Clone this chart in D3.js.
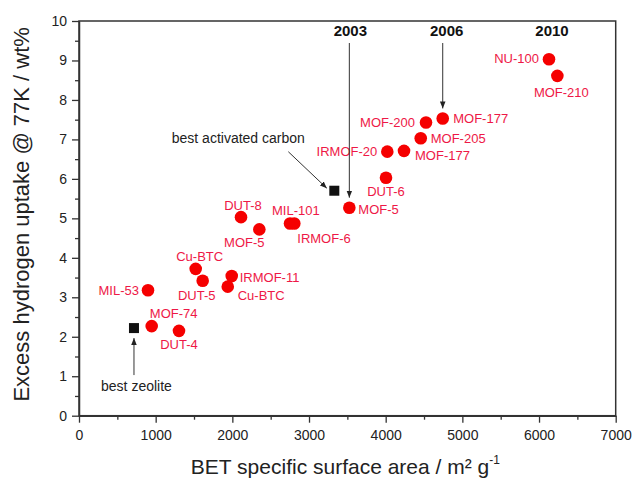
<!DOCTYPE html>
<html>
<head>
<meta charset="utf-8">
<script src="https://cdn.jsdelivr.net/npm/d3@7"></script>
<style>
  html, body { margin: 0; padding: 0; background: #fff; }
  svg { display: block; font-family: "Liberation Sans", Arial, Helvetica, sans-serif; }
</style>
</head>
<body>
<svg id="chart" width="634" height="480"></svg>
<script>
// ---- data ----
const names = ["MIL-53","MOF-74","DUT-4","Cu-BTC","DUT-5","IRMOF-11","Cu-BTC","DUT-8","MOF-5","MIL-101",
               "IRMOF-6","MOF-5","DUT-6","IRMOF-20","MOF-177","MOF-205","MOF-200","MOF-177","NU-100","MOF-210"];
const surfaceArea = [900, 948, 1304, 1522, 1613, 1992, 1940, 2113, 2352, 2752,
                     2808, 3526, 4004, 4021, 4239, 4457, 4526, 4744, 6130, 6239];
const h2Uptake = [3.18, 2.27, 2.15, 3.72, 3.42, 3.54, 3.27, 5.03, 4.72, 4.87,
                  4.87, 5.27, 6.03, 6.69, 6.71, 7.03, 7.43, 7.53, 9.03, 8.61];
const refNames = ["best zeolite", "best activated carbon"];
const refArea = [717, 3330];
const refUptake = [2.22, 5.70];
const years = ["2003", "2006", "2010"];
const yearTargets = [11, 17, 18]; // index of material each year label refers to
const xTicks = [0, 1000, 2000, 3000, 4000, 5000, 6000, 7000];
const yTicks = [0, 1, 2, 3, 4, 5, 6, 7, 8, 9, 10];

// ---- label layout (offsets in px from each point) ----
const labelLayout = [
  [-9, 0, "end"], [22, -13, "middle"], [0, 13.5, "middle"], [4, -12, "middle"], [-6, 15, "middle"],
  [8, 1.5, "start"], [10, 9, "start"], [2, -12, "middle"], [-15, 13.5, "middle"], [-18, -12.5, "start"],
  [3, 15, "start"], [9, 1.5, "start"], [0, 14, "middle"], [-10, 0, "end"], [11, 4.5, "start"],
  [10, 0, "start"], [-11, 0, "end"], [10.5, 0, "start"], [-10, -1, "end"], [4, 16.5, "middle"]
];

const svg = d3.select("#chart");
const L = 79, R = 615.7, T = 21, B = 415.7;
const x = d3.scaleLinear().domain([0, 7000]).range([L, R]);
const y = d3.scaleLinear().domain([0, 10]).range([B, T]);
const axisColor = "#333";

// frame
svg.append("rect").attr("x", L).attr("y", T).attr("width", R - L).attr("height", B - T)
  .attr("fill", "none").attr("stroke", axisColor).attr("stroke-width", 1.5);

// minor ticks
const xMinor = d3.range(500, 7000, 1000);
const yMinor = d3.range(0.5, 10, 1);
svg.append("g").attr("transform", `translate(0,${B})`)
  .call(d3.axisBottom(x).tickValues(xMinor).tickSize(4).tickFormat(""))
  .call(g => g.select(".domain").remove())
  .call(g => g.selectAll("line").attr("stroke", axisColor).attr("stroke-width", 1.3));
svg.append("g").attr("transform", `translate(${L},0)`)
  .call(d3.axisLeft(y).tickValues(yMinor).tickSize(4).tickFormat(""))
  .call(g => g.select(".domain").remove())
  .call(g => g.selectAll("line").attr("stroke", axisColor).attr("stroke-width", 1.3));

// major axes
const xAxis = svg.append("g").attr("transform", `translate(0,${B})`)
  .call(d3.axisBottom(x).tickValues(xTicks).tickSize(7).tickPadding(7).tickSizeOuter(0).tickFormat(d3.format("d")));
const yAxis = svg.append("g").attr("transform", `translate(${L},0)`)
  .call(d3.axisLeft(y).tickValues(yTicks).tickSize(7).tickPadding(5).tickSizeOuter(0));
[xAxis, yAxis].forEach(g => {
  g.select(".domain").attr("stroke", axisColor).attr("stroke-width", 1.5);
  g.selectAll(".tick line").attr("stroke", axisColor).attr("stroke-width", 1.3);
  g.selectAll(".tick text").attr("font-size", 14).attr("fill", "#222")
    .attr("font-family", "'Liberation Sans', Arial, sans-serif");
});

// axis titles
svg.append("text").attr("x", (L + R) / 2 - 2).attr("y", 474)
  .attr("text-anchor", "middle").attr("font-size", 21).attr("fill", "#222")
  .html('BET specific surface area / m² g<tspan font-size="12" dy="-10">-1</tspan>');
svg.append("text").attr("transform", `translate(29,${(T + B) / 2 - 4}) rotate(-90)`)
  .attr("text-anchor", "middle").attr("font-size", 22).attr("fill", "#222")
  .text("Excess hydrogen uptake @ 77K / wt%");

// arrow marker
svg.append("defs").append("marker").attr("id", "arr")
  .attr("viewBox", "0 0 10 10").attr("refX", 10).attr("refY", 5)
  .attr("markerWidth", 7).attr("markerHeight", 7).attr("markerUnits", "userSpaceOnUse")
  .attr("orient", "auto")
  .append("path").attr("d", "M0,1 L10,5 L0,9 Z").attr("fill", "#222");

// data points
const pts = names.map((n, i) => ({ name: n, xv: surfaceArea[i], yv: h2Uptake[i], lay: labelLayout[i] }));
svg.append("g").selectAll("circle").data(pts).join("circle")
  .attr("cx", d => x(d.xv)).attr("cy", d => y(d.yv)).attr("r", 6.3)
  .attr("fill", "#f50000");
svg.append("g").selectAll("text").data(pts).join("text")
  .attr("x", d => x(d.xv) + d.lay[0]).attr("y", d => y(d.yv) + d.lay[1])
  .attr("text-anchor", d => d.lay[2]).attr("dominant-baseline", "central")
  .attr("font-size", 13).attr("fill", "#ee1846").text(d => d.name);

// reference squares
const refs = refNames.map((n, i) => ({ name: n, xv: refArea[i], yv: refUptake[i] }));
svg.append("g").selectAll("rect").data(refs).join("rect")
  .attr("x", d => x(d.xv) - 5).attr("y", d => y(d.yv) - 5).attr("width", 10).attr("height", 10)
  .attr("fill", "#111");

// zeolite annotation
const z = refs[0];
svg.append("line").attr("x1", x(z.xv)).attr("y1", y(z.yv) + 47).attr("x2", x(z.xv)).attr("y2", y(z.yv) + 10)
  .attr("stroke", "#333").attr("stroke-width", 1).attr("marker-end", "url(#arr)");
svg.append("text").attr("x", x(z.xv) + 2.5).attr("y", y(z.yv) + 58)
  .attr("text-anchor", "middle").attr("dominant-baseline", "central")
  .attr("font-size", 14).attr("fill", "#222").text(z.name);

// activated carbon annotation
const c = refs[1];
svg.append("line").attr("x1", x(c.xv) - 46).attr("y1", y(c.yv) - 39).attr("x2", x(c.xv) - 7.5).attr("y2", y(c.yv) - 2.5)
  .attr("stroke", "#333").attr("stroke-width", 1).attr("marker-end", "url(#arr)");
svg.append("text").attr("x", x(c.xv) - 96).attr("y", y(c.yv) - 53)
  .attr("text-anchor", "middle").attr("dominant-baseline", "central")
  .attr("font-size", 14).attr("fill", "#222").text(c.name);

// year annotations
const yearOffsets = [1, 4, 3];
years.forEach((yr, i) => {
  const p = pts[yearTargets[i]];
  const px = x(p.xv), py = y(p.yv);
  svg.append("text").attr("x", px + yearOffsets[i]).attr("y", 30.5)
    .attr("text-anchor", "middle").attr("dominant-baseline", "central")
    .attr("font-size", 15).attr("font-weight", "bold").attr("fill", "#111").text(yr);
  if (i < 2) {
    svg.append("line").attr("x1", px).attr("y1", 43).attr("x2", px).attr("y2", py - 10)
      .attr("stroke", "#333").attr("stroke-width", 1).attr("marker-end", "url(#arr)");
  }
});
</script>
</body>
</html>
